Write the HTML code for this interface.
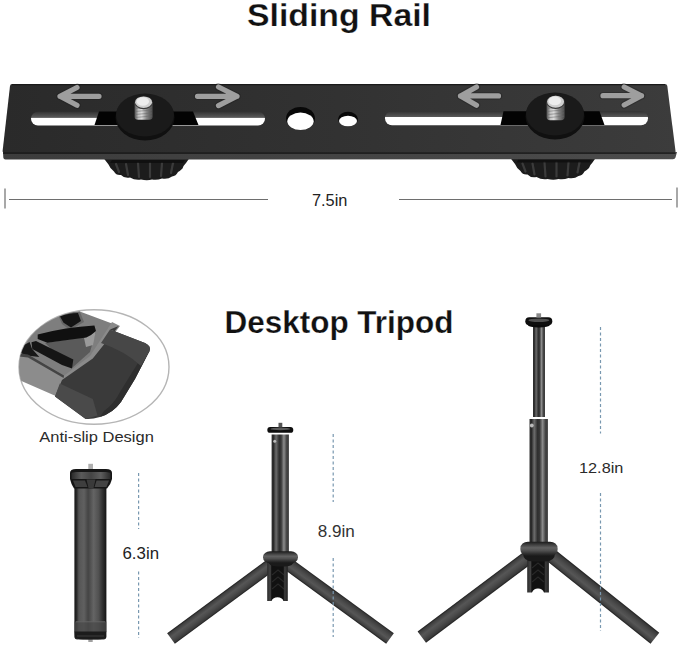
<!DOCTYPE html>
<html><head><meta charset="utf-8">
<style>
html,body{margin:0;padding:0;background:#fff;width:679px;height:646px;overflow:hidden}
svg{display:block}
text{font-family:"Liberation Sans",sans-serif}
</style></head>
<body>
<svg width="679" height="646" viewBox="0 0 679 646">
<defs>
  <linearGradient id="slotwall" x1="0" y1="0" x2="0" y2="1">
    <stop offset="0" stop-color="#333"/>
    <stop offset="0.36" stop-color="#555"/>
    <stop offset="0.41" stop-color="#5a5a5a"/>
    <stop offset="0.44" stop-color="#fff"/>
    <stop offset="1" stop-color="#fff"/>
  </linearGradient>
  <linearGradient id="holewall" x1="0" y1="0" x2="0" y2="1">
    <stop offset="0" stop-color="#000"/>
    <stop offset="1" stop-color="#222"/>
  </linearGradient>
  <linearGradient id="screw" x1="0" y1="0" x2="1" y2="0">
    <stop offset="0" stop-color="#4a4a4a"/>
    <stop offset="0.22" stop-color="#c4c4c4"/>
    <stop offset="0.4" stop-color="#dcdcdc"/>
    <stop offset="0.65" stop-color="#8a8a8a"/>
    <stop offset="1" stop-color="#444"/>
  </linearGradient>
  <linearGradient id="tube" x1="0" y1="0" x2="1" y2="0">
    <stop offset="0" stop-color="#333"/>
    <stop offset="0.1" stop-color="#262626"/>
    <stop offset="0.26" stop-color="#6c6c6c"/>
    <stop offset="0.44" stop-color="#2e2e2e"/>
    <stop offset="0.55" stop-color="#383838"/>
    <stop offset="0.71" stop-color="#8c8c8c"/>
    <stop offset="0.87" stop-color="#444"/>
    <stop offset="1" stop-color="#3a3a3a"/>
  </linearGradient>
  <linearGradient id="hubring" x1="0" y1="0" x2="0" y2="1">
    <stop offset="0" stop-color="#1a1a1a"/>
    <stop offset="0.18" stop-color="#3a3a3a"/>
    <stop offset="0.42" stop-color="#626262"/>
    <stop offset="0.62" stop-color="#505050"/>
    <stop offset="0.82" stop-color="#303030"/>
    <stop offset="1" stop-color="#181818"/>
  </linearGradient>
  <linearGradient id="channel" x1="0" y1="0" x2="1" y2="0">
    <stop offset="0" stop-color="#2a2a2a"/>
    <stop offset="0.15" stop-color="#444"/>
    <stop offset="0.22" stop-color="#111"/>
    <stop offset="0.78" stop-color="#111"/>
    <stop offset="0.85" stop-color="#3c3c3c"/>
    <stop offset="1" stop-color="#222"/>
  </linearGradient>
  <linearGradient id="body" x1="0" y1="0" x2="1" y2="0">
    <stop offset="0" stop-color="#141414"/>
    <stop offset="0.07" stop-color="#2a2a2a"/>
    <stop offset="0.14" stop-color="#555"/>
    <stop offset="0.3" stop-color="#606060"/>
    <stop offset="0.43" stop-color="#444"/>
    <stop offset="0.6" stop-color="#646464"/>
    <stop offset="0.76" stop-color="#505050"/>
    <stop offset="0.88" stop-color="#303030"/>
    <stop offset="1" stop-color="#141414"/>
  </linearGradient>
  <linearGradient id="leg" x1="0" y1="0" x2="0" y2="1">
    <stop offset="0" stop-color="#1e1e1e"/>
    <stop offset="0.12" stop-color="#3e3e3e"/>
    <stop offset="0.4" stop-color="#565656"/>
    <stop offset="0.62" stop-color="#4c4c4c"/>
    <stop offset="0.88" stop-color="#3a3a3a"/>
    <stop offset="1" stop-color="#1e1e1e"/>
  </linearGradient>
  <linearGradient id="hub" x1="0" y1="0" x2="0" y2="1">
    <stop offset="0" stop-color="#222"/>
    <stop offset="0.3" stop-color="#444"/>
    <stop offset="0.6" stop-color="#333"/>
    <stop offset="1" stop-color="#181818"/>
  </linearGradient>
  <linearGradient id="railface" x1="0" y1="0" x2="1" y2="0">
    <stop offset="0" stop-color="#2a2a2a"/>
    <stop offset="0.5" stop-color="#323232"/>
    <stop offset="1" stop-color="#3c3c3c"/>
  </linearGradient>
  <linearGradient id="railedge" x1="0" y1="0" x2="1" y2="0">
    <stop offset="0" stop-color="#3c3c3c"/>
    <stop offset="1" stop-color="#4c4c4c"/>
  </linearGradient>
  <linearGradient id="capband" x1="0" y1="0" x2="1" y2="0">
    <stop offset="0" stop-color="#2a2a2a"/>
    <stop offset="0.25" stop-color="#5a5a5a"/>
    <stop offset="0.5" stop-color="#444"/>
    <stop offset="0.75" stop-color="#5e5e5e"/>
    <stop offset="1" stop-color="#2a2a2a"/>
  </linearGradient>
  <clipPath id="circ"><ellipse cx="94" cy="367" rx="75" ry="57.2"/></clipPath>
</defs>

<!-- Titles -->
<text x="247" y="26" font-size="32" font-weight="bold" fill="#111" stroke="#fff" stroke-width="0.25" textLength="184" lengthAdjust="spacingAndGlyphs">Sliding Rail</text>
<text x="224.5" y="333" font-size="32" font-weight="bold" fill="#111" stroke="#fff" stroke-width="0.25" textLength="229" lengthAdjust="spacingAndGlyphs">Desktop Tripod</text>

<!-- Rail knobs under (knurled) -->
<g id="knobL">
  <path d="M103.5,158 L189.5,158 L186,163 Q183,166 182.5,168.5 Q180,171 178,172 Q176,176 172,176.5 Q168,179.5 162,178.5 Q157,180.5 152,179.5 Q147,181 141,179.5 Q135,180.5 130,177.5 Q124,178.5 121,175 Q116,175.5 114,171.5 Q110,168.5 108.5,164.5 Z" fill="#1c1c1c"/>
  <g stroke="#555" stroke-width="2.2" fill="none" opacity="0.55" stroke-linecap="round">
    <path d="M116,164 L119,172"/><path d="M126,164 L128,175"/><path d="M138,163 L139,177"/><path d="M150,163 L150,177"/><path d="M162,163 L161,176"/><path d="M173,163 L171,173"/>
  </g>
  <path d="M112,160 L185,160 L183,163 L110,163 Z" fill="#0c0c0c" opacity="0.7"/>
</g>
<use href="#knobL" transform="translate(406.5,-0.5)"/>

<!-- Rail body -->
<path d="M3,152 L677,152 L675.5,157.5 Q675,159.3 673,159.3 L5.5,159.6 Q3.5,159.6 3.3,157.5 Z" fill="url(#railedge)"/>
<path d="M12,84 L665,84 Q667,84 667.3,86 L675.5,151 Q675.6,153 673.5,153 L4.5,153 Q2.4,153 2.6,151 L10,86 Q10.3,84 12,84 Z" fill="url(#railface)"/>
<line x1="3" y1="153.1" x2="675.5" y2="153.1" stroke="#141414" stroke-width="1.3"/>
<line x1="12" y1="84.7" x2="665" y2="84.7" stroke="#1a1a1a" stroke-width="1.2"/>

<!-- slots -->
<rect x="31" y="111.8" width="234" height="13.8" rx="6.9" fill="url(#slotwall)"/>
<rect x="385" y="111.3" width="263" height="14" rx="7" fill="url(#slotwall)"/>
<path d="M99,111.5 L193,111.5 L198.5,125 L94.5,125 Z" fill="#030303"/>
<path d="M503.5,111.3 L599.5,111.3 L604.5,125 L500.5,125 Z" fill="#030303"/>

<!-- holes -->
<ellipse cx="300.5" cy="118.5" rx="14.5" ry="11.5" fill="#080808"/>
<ellipse cx="300.5" cy="121.3" rx="13.2" ry="8.7" fill="#fff"/>
<ellipse cx="348" cy="119" rx="10" ry="7.2" fill="#080808"/>
<ellipse cx="348" cy="121" rx="9" ry="5.2" fill="#fff"/>

<!-- arrows -->
<g stroke="#1c1c1c" stroke-width="7.5" fill="none" stroke-linecap="round" stroke-linejoin="round" opacity="0.35">
  <path d="M99,96.3 L60,96.3 M77,87.5 L60,96.3 L77,105.3"/>
  <path d="M197.5,96.3 L237,96.3 M218.5,87 L237,96.3 L218.5,105.6"/>
  <path d="M498.5,95.9 L460.5,95.9 M476.5,87 L460.5,95.9 L476.5,105.3"/>
  <path d="M603,95.7 L641.5,95.7 M624.2,87 L641.5,95.7 L624.2,105"/>
</g>
<g stroke="#9e9e9e" stroke-width="5.2" fill="none" stroke-linecap="round" stroke-linejoin="round">
  <path d="M99,96.3 L60,96.3 M77,87.5 L60,96.3 L77,105.3"/>
  <path d="M197.5,96.3 L237,96.3 M218.5,87 L237,96.3 L218.5,105.6"/>
  <path d="M498.5,95.9 L460.5,95.9 M476.5,87 L460.5,95.9 L476.5,105.3"/>
  <path d="M603,95.7 L641.5,95.7 M624.2,87 L641.5,95.7 L624.2,105"/>
</g>

<!-- top knobs -->
<g id="knobT">
  <ellipse cx="145" cy="117.5" rx="29.5" ry="23" fill="#101010"/>
  <ellipse cx="145" cy="115" rx="29" ry="21.5" fill="#1a1a1a"/>
</g>
<use href="#knobT" transform="translate(410,-1)"/>
<g id="screwL">
  <path d="M134.5,103 L152.7,103 L152.7,116.5 Q152.7,119.8 149,119.8 L138,119.8 Q134.5,119.8 134.5,116.5 Z" fill="url(#screw)"/>
  <g stroke="#6a6a6a" stroke-width="0.9" opacity="0.6">
    <line x1="135" y1="108.5" x2="152" y2="107"/><line x1="135" y1="111.5" x2="152" y2="110"/><line x1="135" y1="114.5" x2="152" y2="113"/><line x1="135" y1="117.5" x2="152" y2="116"/>
  </g>
  <ellipse cx="143.6" cy="102.7" rx="9.1" ry="6.5" fill="#3a3a3a"/>
  <ellipse cx="143.6" cy="102.2" rx="8.5" ry="5.8" fill="#cfcfcf"/>
  <ellipse cx="142.8" cy="101.5" rx="6.2" ry="4.2" fill="#ededed"/>
</g>
<use href="#screwL" transform="translate(412,-5.3) scale(1,1.047)" />


<!-- dimension line -->
<g stroke="#6e6e6e" stroke-width="1.2">
  <line x1="9" y1="199.5" x2="268" y2="199.5"/>
  <line x1="399" y1="199.5" x2="672" y2="199.5"/>
  <line x1="5" y1="188.5" x2="5" y2="208.5"/>
  <line x1="677" y1="187.5" x2="677" y2="207.5"/>
</g>
<text x="312" y="206.3" font-size="16" fill="#222" textLength="35.4" lengthAdjust="spacingAndGlyphs">7.5in</text>

<!-- anti-slip circle -->
<ellipse cx="94" cy="367" rx="75" ry="57.2" fill="none" stroke="#b5b5b5" stroke-width="1.4"/>
<g clip-path="url(#circ)">
  <!-- metal frame base -->
  <path d="M0,300 L50,300 L58.7,316.3 Q68,312 79.8,311.5 L118.7,326 L93,358 L65,380 L62,380 L28,357 L0,357 Z" fill="#7e7e7e"/>
  <!-- darker inner area -->
  <path d="M45,343 L86,337 L96,331 L90,352 L72,368 Z" fill="#5a5a5a"/>
  <path d="M84,338 L96,330 L93,345 L86,347 Z" fill="#9a9a9a"/>
  <path d="M58.7,316.3 Q68,312 79.8,311.5 L84,322 L70,330 L62,324 Z" fill="#666"/>
  <!-- black gaps -->
  <path d="M60,316.5 Q68,313 78,313 L81,321 L71,327.5 L63.6,322.8 Z" fill="#141414"/>
  <path d="M37.7,334.5 Q66,327 94.4,325.5 L96,331 Q92,335 86.3,337.4 Q66,340 47.4,342.8 L37.7,339 Z" fill="#101010"/>
  <path d="M31.5,342.3 L36,341 L73.3,359.5 L72,368.5 L62,365 L32.3,349 Z" fill="#151515"/>
  <path d="M21.5,346.5 L29.6,342 L32,348.7 L39.3,357 L24.7,355.2 L19.7,352 Z" fill="#181818"/>
  <!-- frame rim by rubber -->
  <path d="M112,322 L120,326 L94,360 L66,381 L61,378 L90,356 Z" fill="#8a8a8a"/>
  <!-- light band -->
  <path d="M10,354 L28,356.8 L63.6,377 L58,397 L22,381.2 L10,376 Z" fill="#8c8c8c"/>
  <path d="M10,352 L28,354.5 L64,375.5 L63.6,378 L28,357.5 L10,355.5 Z" fill="#444"/>
  <!-- rubber foot -->
  <path d="M110,329.5 L145,343 Q151.5,346 149.5,351 L135,379 L121,402 Q113,413 100,417 Q92,419.5 85.7,419 L55,396.6 L62,380 L92.8,358.5 L118.7,326 Z" fill="#3a3a3a"/>
  <path d="M149.5,351 L135,379 L121,402 Q113,413 100,417 L104,411 Q114,404 120,392 L146,350 Z" fill="#2e2e2e"/>
  <path d="M110,329.5 L145,343 Q151.5,346 149.5,351 L141,366 Q125,351 101,343 Z" fill="#474747"/>
  <path d="M59.8,383.6 L92.8,398.9 L97.5,415.4 L85.7,419 L55,396.6 Z" fill="#4a4a4a"/>
</g>
<text x="39.3" y="441.6" font-size="15.5" fill="#2a2a2a" textLength="114.5" lengthAdjust="spacingAndGlyphs">Anti-slip Design</text>

<!-- folded tripod -->
<g>
  <rect x="88.3" y="463.8" width="4.7" height="6" fill="#b0b0b0"/>
  <rect x="88.3" y="636" width="4.4" height="6" fill="#a0a0a0"/>
  <rect x="74.4" y="484" width="32" height="155.5" rx="3" fill="url(#body)"/>
  <path d="M74.4,621.5 L106.4,621.5 L106.4,632 L74.4,632 Z" fill="#4a4a4a" opacity="0.75"/>
  <line x1="76" y1="621.8" x2="105" y2="621.8" stroke="#6a6a6a" stroke-width="0.8"/>
  <path d="M74.6,631.5 L106.2,631.5 L105.5,636 Q104.5,639.5 98,639.5 L83,639.5 Q76,639.5 75,636 Z" fill="#1c1c1c"/>
  <line x1="77" y1="636" x2="104" y2="636" stroke="#3a3a3a" stroke-width="1"/>
  <path d="M70,473 Q70,469 76,469 L106,469 Q112,469 112,473 L112,479 Q111,484 107,488.5 L74,488.5 Q71,484 70,479 Z" fill="#161616"/>
  <path d="M71.5,473.5 Q72,472 76,472 L106,472 Q110,472 110.5,473.5 L110.5,479 L71.5,479 Z" fill="url(#capband)"/>
  <path d="M73,480.5 L85,480.5 L87.5,487 L75.5,487 Z" fill="#3e3e3e"/>
  <path d="M96.5,480.5 L109,480.5 L106.5,487 L94.5,487 Z" fill="#444"/>
  <path d="M86.5,479.5 L95.5,479.5 L93.5,488 L88.5,488 Z" fill="#3a3a3a"/>
</g>

<text x="122.5" y="558.5" font-size="16" fill="#222" textLength="36.5" lengthAdjust="spacingAndGlyphs">6.3in</text>
<text x="317.8" y="536.6" font-size="16" fill="#333" textLength="37" lengthAdjust="spacingAndGlyphs">8.9in</text>
<text x="579" y="473" font-size="15.4" fill="#2a2a2a" textLength="44.4" lengthAdjust="spacingAndGlyphs">12.8in</text>

<!-- medium tripod -->
<g>
  <rect x="0" y="-6.5" width="126" height="13" fill="url(#leg)" transform="translate(171,638.6) rotate(-36.4)"/>
  <rect x="0" y="-6.5" width="126" height="13" fill="url(#leg)" transform="translate(390,638.4) rotate(-143.9)"/>
  <path d="M267.2,562 L287.8,562 L287.8,601 L283.5,601 Q282,597.3 277.5,597.3 Q273,597.3 271.5,601 L267.2,601 Z" fill="url(#channel)"/>
  <g stroke="#3a3a3a" stroke-width="1.2" fill="none" opacity="0.55">
    <path d="M272,575 L278,570 L284,575"/><path d="M272,582 L278,577 L284,582"/><path d="M272,589 L278,584 L284,589"/>
  </g>
  <rect x="271.6" y="434.5" width="17.3" height="120" fill="url(#tube)"/>
  <path d="M268,560 Q268,566.5 277,566.5 L285,566.5 Q294,566.5 294,560 Z" fill="#1a1a1a"/>
  <rect x="263" y="551.3" width="35" height="11.8" rx="7" ry="5.5" fill="url(#hubring)"/>
  <rect x="267.3" y="427" width="26" height="5.8" rx="2.9" fill="#0e0e0e"/>
  <ellipse cx="280.3" cy="428.9" rx="10" ry="1.3" fill="#5a5a5a"/>
  <circle cx="274.7" cy="441.3" r="1.5" fill="#bbb"/>
  <rect x="278.5" y="422.8" width="3.8" height="4.5" fill="#555"/>
</g>
<!-- large tripod -->
<g>
  <rect x="0" y="-7" width="136" height="14" fill="url(#leg)" transform="translate(421.8,637.2) rotate(-36.9)"/>
  <rect x="0" y="-7" width="137" height="14" fill="url(#leg)" transform="translate(654.9,638.2) rotate(-141.45)"/>
  <path d="M527.2,556 L548.9,556 L548.9,592.4 L544,592.4 Q542.5,588.5 538,588.5 Q533.5,588.5 532,592.4 L527.2,592.4 Z" fill="url(#channel)"/>
  <g stroke="#3a3a3a" stroke-width="1.2" fill="none" opacity="0.55">
    <path d="M532,568 L538,563 L544,568"/><path d="M532,575 L538,570 L544,575"/><path d="M532,582 L538,577 L544,582"/>
  </g>
  <rect x="533" y="326.5" width="12" height="90.5" fill="url(#tube)"/>
  <rect x="529.5" y="419" width="18.4" height="126" fill="url(#tube)"/>
  <path d="M523,553 Q523,561.5 533,561.5 L545,561.5 Q555,561.5 555,553 Z" fill="#1a1a1a"/>
  <rect x="520.4" y="541.7" width="37.2" height="14.5" rx="7.5" ry="6.5" fill="url(#hubring)"/>
  <ellipse cx="538.8" cy="325" rx="11" ry="2.5" fill="#0a0a0a"/>
  <rect x="525.3" y="317.3" width="27" height="8" rx="4" fill="#0e0e0e"/>
  <ellipse cx="538.8" cy="320.2" rx="10.5" ry="1.8" fill="#505050"/>
  <circle cx="531.8" cy="425.5" r="1.9" fill="#bbb"/>
  <rect x="536.4" y="313.3" width="4.7" height="4.2" fill="#8a8a8a"/>
</g>
<!-- dotted lines -->
<g stroke="#7898b0" stroke-width="1.2" stroke-dasharray="3 2.5">
  <line x1="138.6" y1="473" x2="138.6" y2="529"/>
  <line x1="138.6" y1="571.5" x2="138.6" y2="638"/>
  <line x1="333.2" y1="434" x2="333.2" y2="502"/>
  <line x1="333.2" y1="558" x2="333.2" y2="637"/>
  <line x1="600.5" y1="327" x2="600.5" y2="433.6"/>
  <line x1="600.5" y1="493" x2="600.5" y2="631"/>
</g>
</svg>
</body></html>
